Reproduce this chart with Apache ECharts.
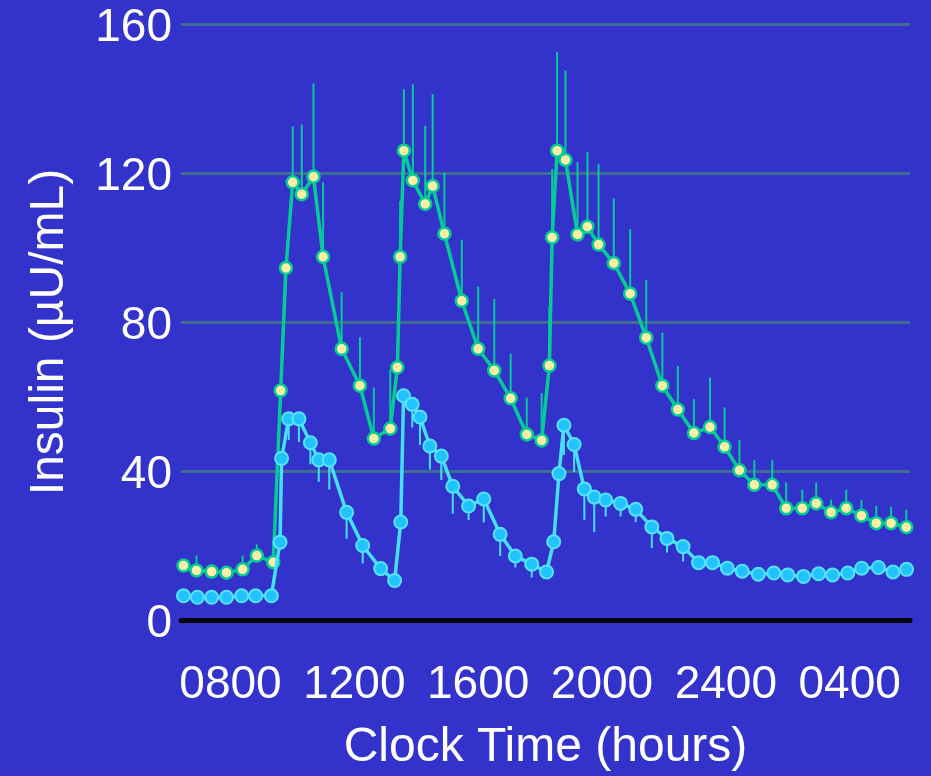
<!DOCTYPE html>
<html>
<head>
<meta charset="utf-8">
<script src="https://cdn.jsdelivr.net/npm/echarts@6/dist/echarts.min.js"></script>
<style>
  html, body { margin: 0; padding: 0; background: #3333cc; }
  #chart { width: 931px; height: 776px; }
</style>
</head>
<body>
<div id="chart"></div>
<script>
// clock time in hours (8 = 0800, 28 = 0400 next day)
const xTicks = [8, 12, 16, 20, 24, 28]
const xTickLabels = ['0800', '1200', '1600', '2000', '2400', '0400']

// upper curve (green line, pale yellow dots)
const greenHours = [6.48, 6.90, 7.39, 7.87, 8.39, 8.85, 9.38, 9.62, 9.79, 10.01, 10.30, 10.68, 10.99, 11.59, 12.18,
  12.63, 13.16, 13.39, 13.48, 13.60, 13.89, 14.29, 14.53, 14.91, 15.47, 16.00, 16.52, 17.05, 17.57, 18.05,
  18.30, 18.39, 18.55, 18.82, 19.21, 19.53, 19.89, 20.38, 20.91, 21.43, 21.95, 22.45, 22.97, 23.49, 23.96,
  24.44, 24.92, 25.50, 25.95, 26.47, 26.92, 27.40, 27.89, 28.38, 28.86, 29.34, 29.83]
const greenMean = [14.6, 13.3, 13.0, 12.7, 13.6, 17.3, 15.5, 61.6, 94.5, 117.5, 114.3, 119.0, 97.5, 72.8, 62.9,
  48.7, 51.4, 67.8, 97.5, 126.0, 118.0, 111.7, 116.5, 103.7, 85.7, 72.8, 67.0, 59.5, 49.8, 48.2,
  68.3, 102.7, 126.0, 123.5, 103.5, 105.6, 100.8, 95.8, 87.6, 75.8, 62.9, 56.5, 50.2, 51.8, 46.5,
  40.2, 36.3, 36.3, 30.0, 30.0, 31.3, 28.9, 30.0, 28.0, 26.0, 26.0, 24.9]
const greenErr = [0, 4.0, 0, 0, 3.7, 3.0, 0, 0, 0, 15.0, 18.7, 25.0, 20.0, 15.2, 13.0,
  13.7, 15.8, 0, 15.0, 16.5, 25.8, 21.0, 24.7, 16.3, 16.4, 16.7, 19.2, 12.0, 9.9, 12.7,
  15.8, 18.3, 26.5, 24.0, 19.4, 20.0, 21.6, 17.4, 17.3, 15.5, 14.2, 11.7, 9.1, 13.3, 10.6,
  8.1, 6.6, 6.6, 6.9, 5.0, 5.6, 3.4, 5.0, 4.2, 4.6, 4.4, 4.7]

// lower curve (cyan)
const cyanHours = [6.48, 6.93, 7.39, 7.87, 8.36, 8.81, 9.32, 9.60, 9.65, 9.88, 10.21, 10.58, 10.85, 11.19, 11.75,
  12.27, 12.85, 13.30, 13.50, 13.59, 13.87, 14.12, 14.44, 14.81, 15.18, 15.69, 16.18, 16.71, 17.20, 17.73,
  18.21, 18.44, 18.61, 18.77, 19.10, 19.43, 19.75, 20.12, 20.60, 21.09, 21.61, 22.10, 22.62, 23.12, 23.57,
  24.05, 24.53, 25.05, 25.55, 26.00, 26.51, 27.00, 27.45, 27.94, 28.39, 28.93, 29.40, 29.84]
const cyanMean = [6.5, 6.1, 6.1, 6.1, 6.5, 6.5, 6.5, 20.9, 43.4, 54.0, 54.0, 47.6, 43.0, 43.0, 28.9,
  20.0, 13.8, 10.6, 26.3, 60.2, 57.9, 54.5, 46.7, 44.0, 35.9, 30.6, 32.5, 23.0, 17.2, 15.0,
  12.9, 21.0, 39.3, 52.3, 47.1, 35.2, 33.0, 32.2, 31.3, 29.7, 25.0, 21.9, 19.7, 15.4, 15.4,
  13.9, 13.1, 12.3, 12.6, 12.1, 11.7, 12.4, 12.1, 12.6, 13.9, 14.1, 12.9, 13.6]
const cyanErr = [0, 0, 0, 0, 0, 0, 0, 0, 0, 5.7, 6.2, 5.8, 5.9, 8.0, 7.1,
  4.8, 0, 0, 0, 0, 6.2, 7.5, 6.3, 6.4, 7.4, 3.8, 6.3, 5.8, 3.1, 3.6,
  0, 0, 0, 8.0, 7.4, 8.3, 9.4, 4.4, 3.5, 3.4, 5.7, 3.8, 4.0, 0, 0,
  0, 0, 0, 0, 0, 0, 0, 0, 0, 0, 0, 0, 0]

const GREEN = '#05cc97'
const CYAN = '#45e0ff'
const FONT = 'Liberation Sans'

const greenLine = greenHours.map((h, i) => [h, greenMean[i]])
const cyanLine = cyanHours.map((h, i) => [h, cyanMean[i]])
const greenBars = greenHours.map((h, i) => [h, greenMean[i], greenMean[i] + greenErr[i]]).filter(d => d[2] > d[1])
const cyanBars = cyanHours.map((h, i) => [h, cyanMean[i], cyanMean[i] - cyanErr[i]]).filter(d => d[2] < d[1])

function errorBar(color) {
  return (params, api) => {
    const a = api.coord([api.value(0), api.value(1)])
    const b = api.coord([api.value(0), api.value(2)])
    return {
      type: 'line',
      shape: { x1: a[0], y1: a[1], x2: b[0], y2: b[1] },
      style: { stroke: color, lineWidth: 2 }
    }
  }
}

const textShadow = {
  color: '#fff',
  fontFamily: FONT,
  fontSize: 46,
  textShadowColor: '#000',
  textShadowOffsetX: 2,
  textShadowOffsetY: 2,
  textShadowBlur: 0
}

const chart = echarts.init(document.getElementById('chart'))
const option = {
  backgroundColor: '#3333cc',
  animation: false,
  grid: { left: 181, right: 21, top: 24, bottom: 156, outerBoundsMode: 'none' },
  xAxis: {
    type: 'value',
    min: 6.4,
    max: 29.95,
    name: 'Clock Time (hours)',
    nameLocation: 'middle',
    nameGap: 104,
    nameTextStyle: { ...textShadow, fontSize: 48 },
    axisLine: { onZero: false, lineStyle: { color: '#000', width: 5 } },
    axisTick: { show: false },
    splitLine: { show: false },
    axisLabel: {
      ...textShadow,
      margin: 42,
      customValues: xTicks,
      formatter: v => xTickLabels[xTicks.indexOf(Math.round(v))]
    }
  },
  yAxis: {
    type: 'value',
    min: 0,
    max: 160,
    interval: 40,
    name: 'Insulin (µU/mL)',
    nameLocation: 'middle',
    nameGap: 107,
    nameTextStyle: { ...textShadow, fontSize: 48, padding: [0, 20, 0, 0] },
    axisLine: { show: false },
    axisTick: { show: false },
    axisLabel: {
      ...textShadow,
      margin: 9,
      formatter: v => '{a|' + v + '}',
      rich: { a: { ...textShadow, padding: [9, 0, 0, 0] } }
    },
    splitLine: { lineStyle: { color: '#3e6c94', width: 3 } }
  },
  series: [
    {
      type: 'custom',
      renderItem: errorBar(GREEN),
      data: greenBars,
      encode: { x: 0, y: [1, 2] },
      z: 1
    },
    {
      type: 'line',
      data: greenLine,
      symbol: 'circle',
      symbolSize: 12,
      lineStyle: { color: GREEN, width: 3.5 },
      itemStyle: { color: '#ffefa6', borderColor: GREEN, borderWidth: 2.5 },
      z: 2
    },
    {
      type: 'custom',
      renderItem: errorBar(CYAN),
      data: cyanBars,
      encode: { x: 0, y: [1, 2] },
      z: 3
    },
    {
      type: 'line',
      data: cyanLine,
      symbol: 'circle',
      symbolSize: 13,
      lineStyle: { color: CYAN, width: 3.5 },
      itemStyle: { color: '#22c2ff', borderColor: '#55e4ff', borderWidth: 2 },
      z: 4
    }
  ]
}
chart.setOption(option)
</script>
</body>
</html>
